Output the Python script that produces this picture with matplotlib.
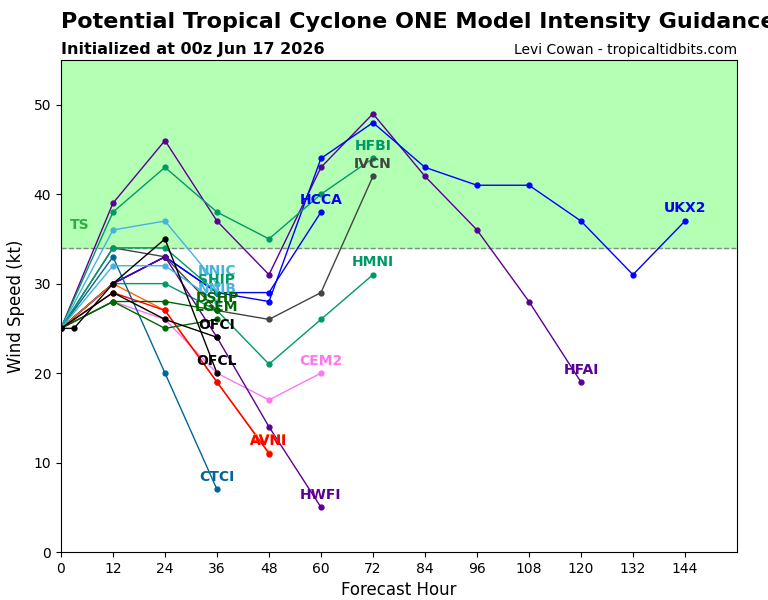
import matplotlib
matplotlib.use("Agg")
import matplotlib.pyplot as plt

# forecast hours
hours = [0, 12, 24, 36, 48, 60, 72, 84, 96, 108, 120, 132, 144]
ofcl_hours = [0, 3, 12, 24, 36]

# intensity (kt) per model
hfai = [25, 39, 46, 37, 31, 43, 49, 42, 36, 28, 19]
ukx2 = [25, 30, 33, 29, 28, 44, 48, 43, 41, 41, 37, 31, 37]
hcca = [25, 30, 33, 29, 29, 38]
hfbi = [25, 38, 43, 38, 35, 40, 44]
ivcn = [25, 34, 33, 27, 26, 29, 42]
hmni = [25, 30, 30, 27, 21, 26, 31]
cem2 = [25, 28, 26, 20, 17, 20]
hwfi = [25, 30, 33, 24, 14, 5]
avnx = [25, 30, 27, 19, 11.1]
avni = [25, 29, 27, 19, 11]
ctci = [25, 33, 20, 7]
nnic = [25, 36, 37, 30]
ship = [25, 34, 34, 29]
nnib = [25, 32, 32, 28]
dshp = [25, 28, 28, 27]
lgem = [25, 28, 25, 26]
ofci = [25, 29, 26, 24]
ofcl = [25, 25, 30, 35, 20]

ts_threshold = 34

models = [
    ("HFAI", hours, hfai, "#5c0094"),
    ("UKX2", hours, ukx2, "#0000ff"),
    ("HCCA", hours, hcca, "#0000ff"),
    ("HFBI", hours, hfbi, "#009966"),
    ("IVCN", hours, ivcn, "#444444"),
    ("HMNI", hours, hmni, "#009966"),
    ("CEM2", hours, cem2, "#ff77ee"),
    ("HWFI", hours, hwfi, "#5c0094"),
    ("AVNI", hours, avnx, "#ff6600"),
    ("AVNI", hours, avni, "#ff0000"),
    ("CTCI", hours, ctci, "#006699"),
    ("NNIC", hours, nnic, "#44b4dd"),
    ("SHIP", hours, ship, "#009966"),
    ("NNIB", hours, nnib, "#44b4dd"),
    ("DSHP", hours, dshp, "#006600"),
    ("LGEM", hours, lgem, "#006600"),
    ("OFCI", hours, ofci, "#000000"),
    ("OFCL", ofcl_hours, ofcl, "#000000"),
]

fig = plt.figure(figsize=(7.68, 6), dpi=100)
ax = fig.add_axes([0.0794, 0.08, 0.8802, 0.82])

ax.axhspan(ts_threshold, 55, color="#b3ffb3", zorder=0)
ax.axhline(ts_threshold, color="#888888", ls="--", lw=1, zorder=1)
ax.text(2, 36.5, "TS", color="#33aa44", fontsize=10, fontweight="bold",
        ha="left", va="center")

for name, hrs, vals, color in models:
    x = hrs[:len(vals)]
    ax.plot(x, vals, color=color, lw=1, marker="o", ms=3.5, zorder=3)

for name, hrs, vals, color in models:
    x = hrs[:len(vals)]
    ax.text(x[-1], vals[-1] + 1.4, name, color=color, fontsize=10,
            fontweight="bold", ha="center", va="center", zorder=4)

ax.set_xlim(0, 156)
ax.set_ylim(0, 55)
ax.set_xticks(range(0, 145, 12))
ax.set_yticks(range(0, 51, 10))
ax.set_xlabel("Forecast Hour", fontsize=12)
ax.set_ylabel("Wind Speed (kt)", fontsize=12, labelpad=6)

fig.text(0.0794, 0.963, "Potential Tropical Cyclone ONE Model Intensity Guidance",
         fontsize=16, fontweight="bold", ha="left", va="center")
fig.text(0.0794, 0.917, "Initialized at 00z Jun 17 2026", fontsize=11.5,
         fontweight="bold", ha="left", va="center")
fig.text(0.9596, 0.917, "Levi Cowan - tropicaltidbits.com", fontsize=10,
         ha="right", va="center")

fig.savefig("out.png", dpi=100)
